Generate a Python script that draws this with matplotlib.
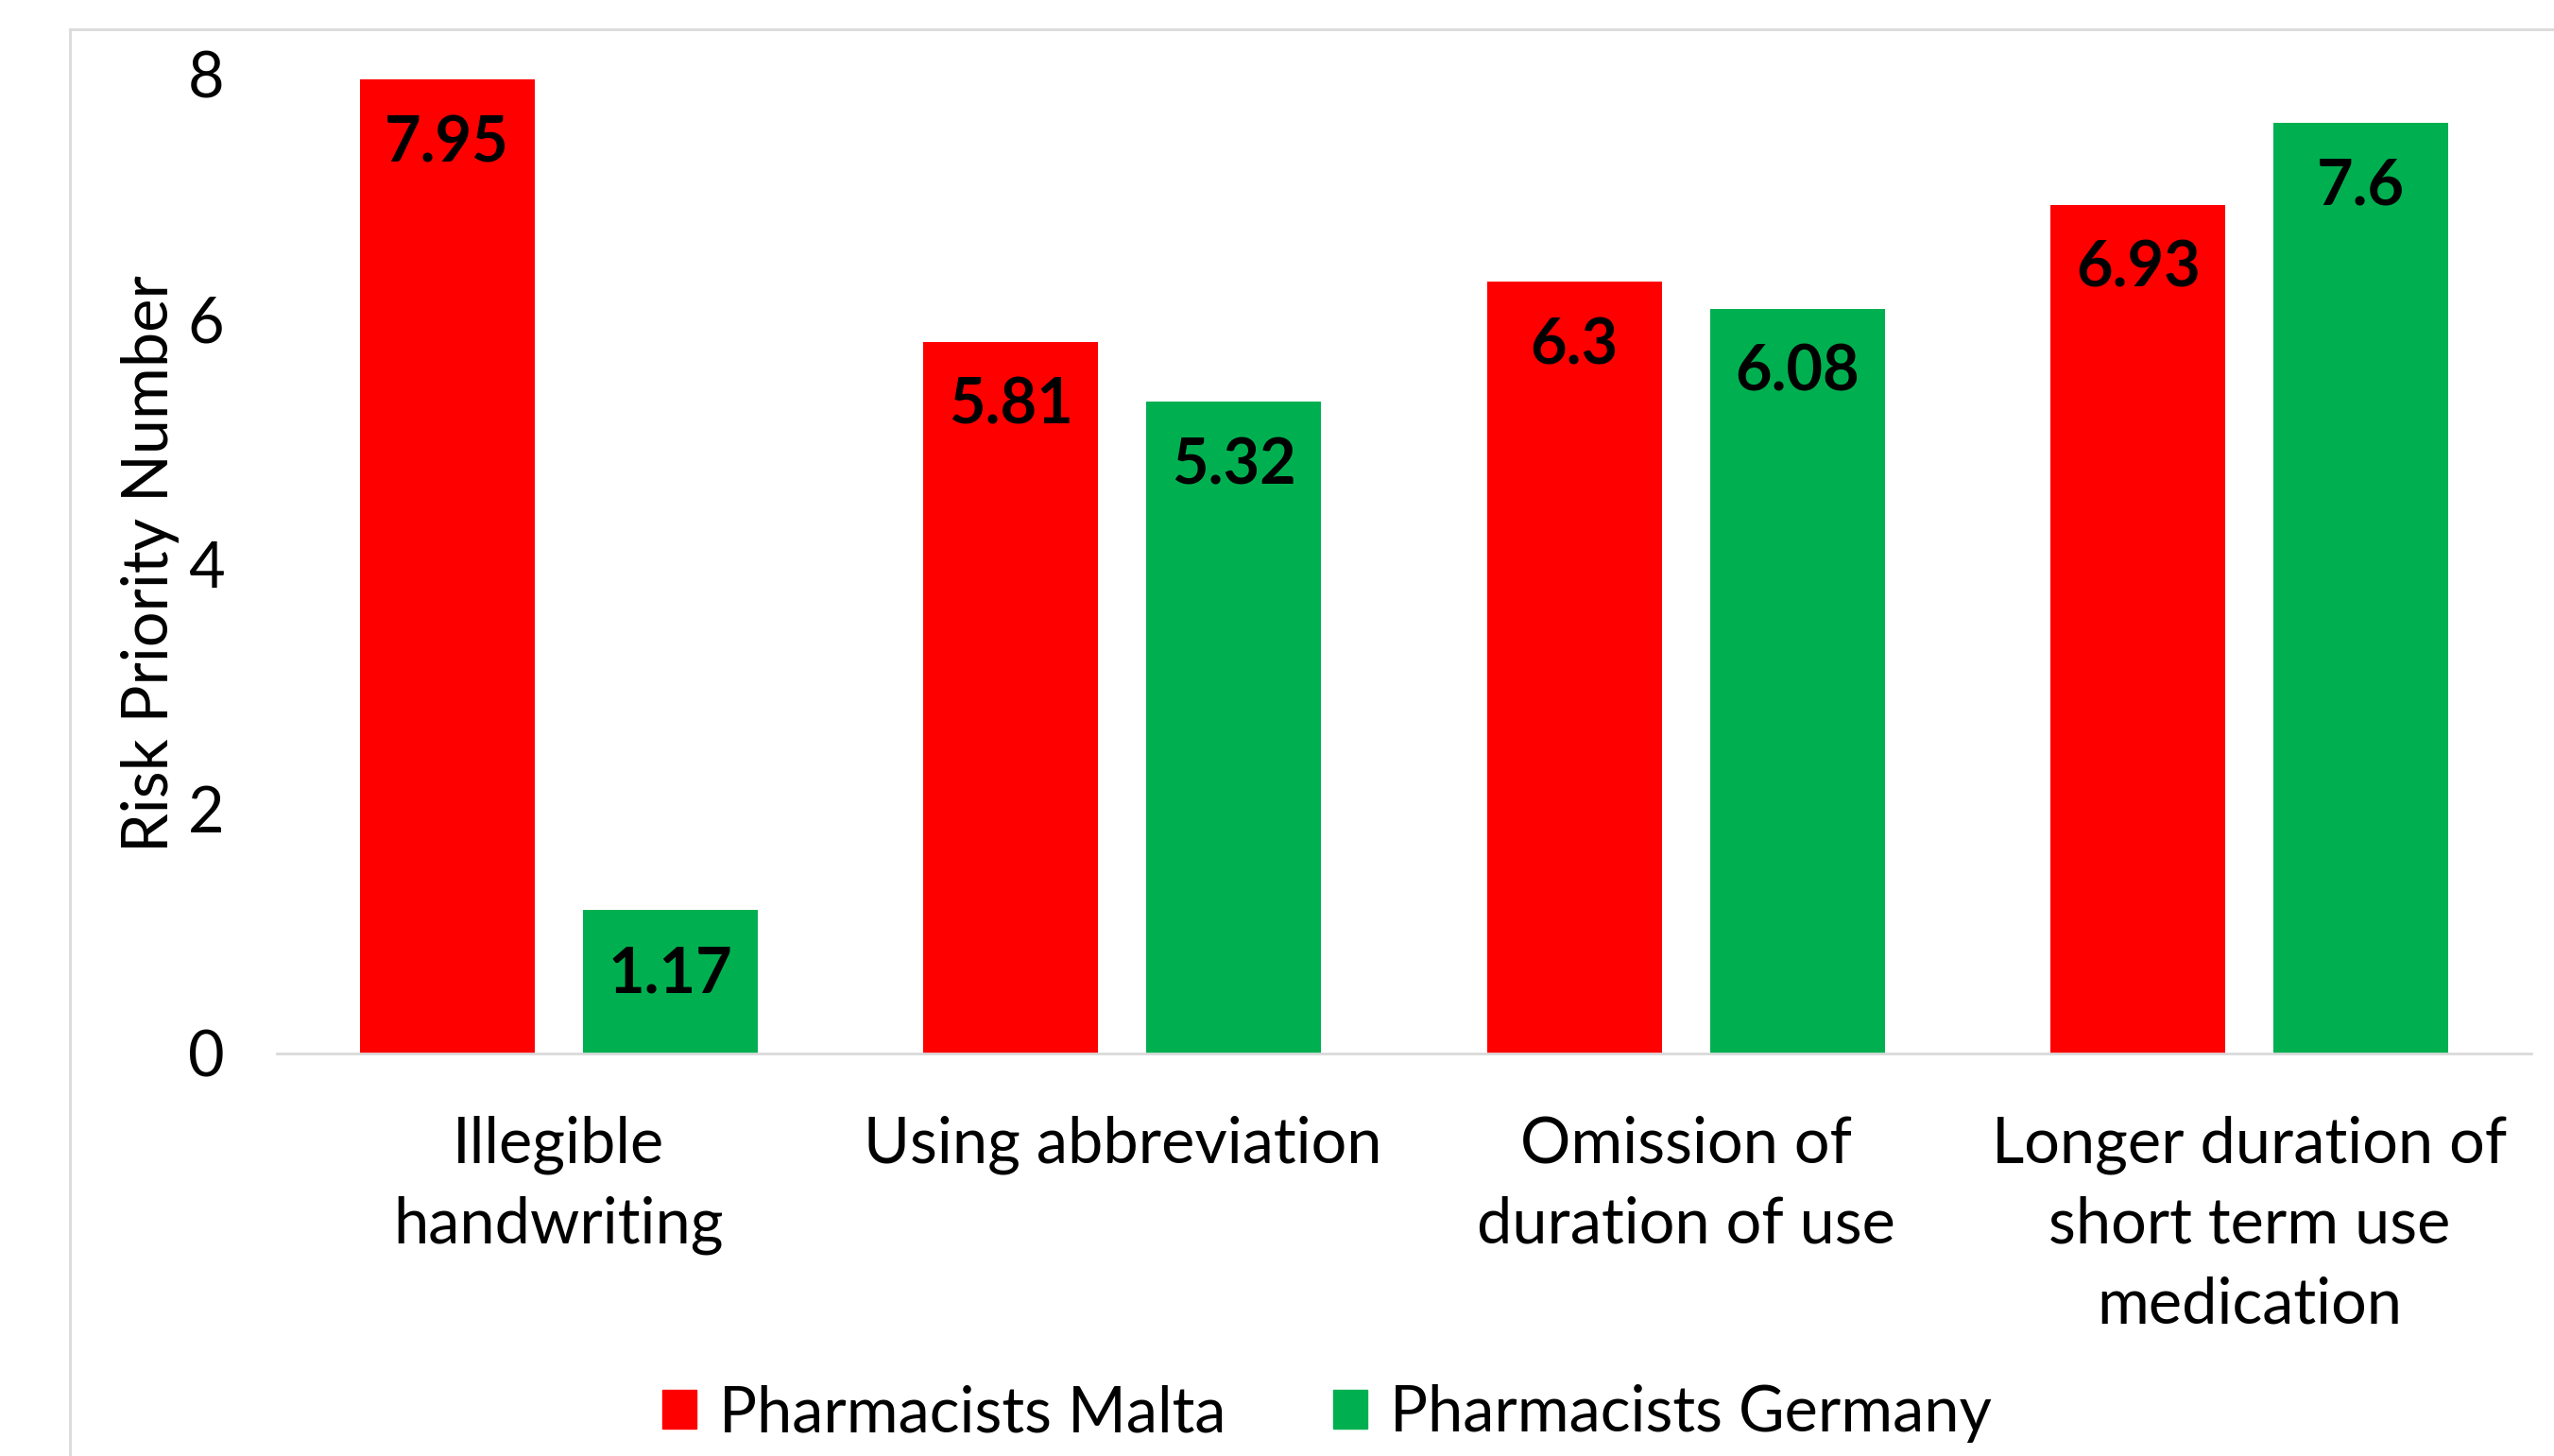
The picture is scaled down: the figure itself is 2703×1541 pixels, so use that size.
import numpy as np
import matplotlib
matplotlib.use('Agg')
from matplotlib import pyplot as plt
from matplotlib.patches import Rectangle, Patch

plt.rcParams['font.family'] = ['Lato', 'DejaVu Sans']

# data
categories = ['Illegible\nhandwriting', 'Using abbreviation',
              'Omission of\nduration of use',
              'Longer duration of\nshort term use\nmedication']
malta = [7.95, 5.81, 6.3, 6.93]
germany = [1.17, 5.32, 6.08, 7.6]
series_names = ['Pharmacists Malta', 'Pharmacists Germany']
colors = ['#FF0000', '#00B050']

W, H = 2703, 1541
FS = 48
fig = plt.figure(figsize=(W / 100, H / 100), dpi=100)

# chart area border (cut off at right and bottom)
fig.patches.append(Rectangle((74 / W, -0.05), 1.1, 1 - 31 / H + 0.05,
                             transform=fig.transFigure, fill=False,
                             edgecolor='#D9D9D9', linewidth=2))

ax = fig.add_axes([293 / W, 426 / H, (2679 - 293) / W, (1115 - 78) / H])

x = np.arange(len(categories))
width = 0.31
off = 0.198
b1 = ax.bar(x - off, malta, width, color=colors[0], label=series_names[0])
b2 = ax.bar(x + off, germany, width, color=colors[1], label=series_names[1])

# value labels inside the top of each bar
for bars, vals in [(b1, malta), (b2, germany)]:
    for rect, v in zip(bars, vals):
        ax.annotate(f'{v:g}', (rect.get_x() + rect.get_width() / 2, v),
                    xytext=(0, -68), textcoords='offset pixels',
                    ha='center', va='center', fontsize=FS, fontweight='bold')

ax.set_xlim(-0.5, 3.5)
ax.set_ylim(0, 8)
ax.set_yticks([0, 2, 4, 6, 8])
ax.set_xticks(x)
ax.set_xticklabels(categories, fontsize=FS, linespacing=1.46)
ax.tick_params(axis='y', labelsize=FS, length=0, pad=40)
ax.tick_params(axis='x', length=0, pad=47)
ax.set_ylabel('Risk Priority Number', fontsize=FS, labelpad=6)

for s in ['top', 'right', 'left']:
    ax.spines[s].set_visible(False)
ax.spines['bottom'].set_color('#D9D9D9')
ax.spines['bottom'].set_linewidth(2)

handles = [Patch(color=c) for c in colors]
fig.legend(handles, series_names, loc='center', bbox_to_anchor=(0.5195, 0.029),
           ncol=2, frameon=False, fontsize=FS, handlelength=0.54,
           handleheight=0.57, handletextpad=0.36, columnspacing=1.7)

fig.savefig('out.png', dpi=100)
